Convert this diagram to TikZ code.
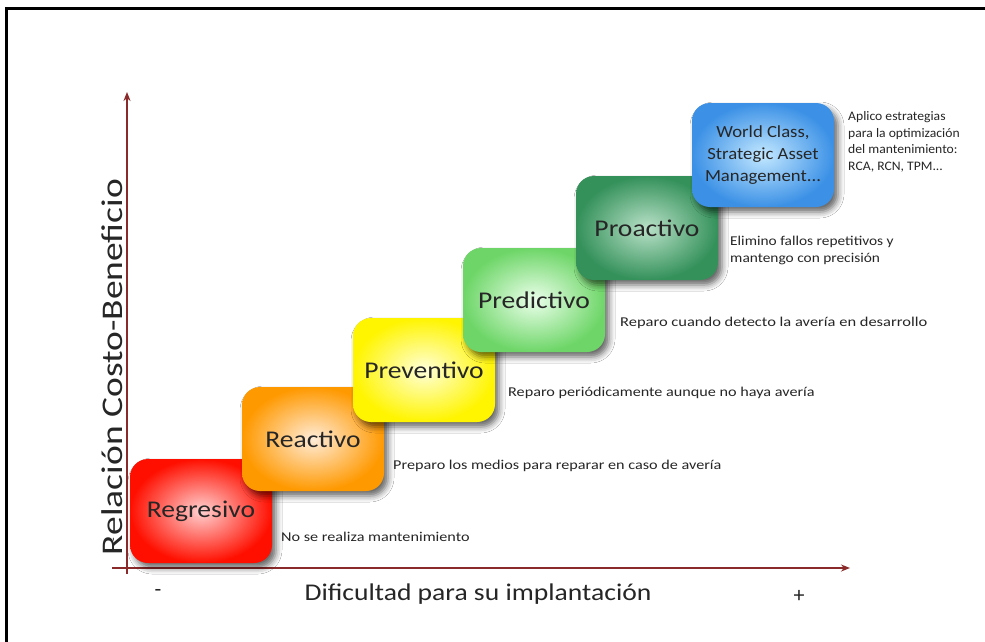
\documentclass[tikz,border=0pt]{standalone}
\usepackage{fontspec}
\usepackage{graphicx}
\setmainfont{Carlito}
\usetikzlibrary{arrows.meta,shadows.blur}

\definecolor{axisred}{HTML}{8B2A2A}
\definecolor{txt}{HTML}{262626}

\tikzset{
  stage/.style={rounded corners=18pt, minimum width=142pt, minimum height=104pt,
    text=txt, font=\fontsize{24}{26}\selectfont, align=center,
    blur shadow={shadow xshift=4pt, shadow yshift=-5pt, shadow blur radius=6pt,
      shadow opacity=60}},
  note/.style={anchor=west, text=txt, align=left, inner sep=0pt,
    font=\fontsize{13.5}{17}\selectfont},
  axis/.style={axisred, line width=1.8pt, -{Stealth[length=9pt,width=7pt]}},
}

\begin{document}
\begin{tikzpicture}[x=1pt,y=-1pt]
\useasboundingbox (0,0) rectangle (985,642);
\fill[white] (0,0) rectangle (985,642);

% frame
\draw[line width=3pt] (6,642) -- (6,9) -- (985,9);

% axes
\coordinate (yb) at (127,574);
\coordinate (yt) at (127,92);
\coordinate (xl) at (112,568);
\coordinate (xr) at (850,568);
\draw[axis] (yb) -- (yt);
\draw[axis] (xl) -- (xr);

\node[rotate=90, text=txt, font=\fontsize{30}{32}\selectfont] (ylab) at (112,367) {\scalebox{1.25}[1]{Relación Costo-Beneficio}};
\node[rotate=90, text=txt, font=\fontsize{12}{12}\selectfont] (ymin) at (115,540) {-};
\node[text=txt, font=\fontsize{24}{26}\selectfont] (xlab) at (478,594) {\scalebox{1.15}[1]{Dificultad para su implantación}};
\node[text=txt, font=\fontsize{22}{24}\selectfont] (xmin) at (158,593) {-};
\node[text=txt, font=\fontsize{22}{24}\selectfont] (xmax) at (799,596) {+};

% stages, each drawn above the previous one
\node[stage, inner color=red!18!white, outer color=red!88!orange] (s1) at (201,511) {\scalebox{1.15}[1]{Regresivo}};
\node[stage, inner color=orange!15!white, outer color=orange!80!yellow] (s2) at (313,439) {\scalebox{1.15}[1]{Reactivo}};
\node[stage, inner color=yellow!15!white, outer color=yellow!92!orange] (s3) at (424,370) {\scalebox{1.15}[1]{Preventivo}};
\node[stage, inner color=green!8!white, outer color={rgb,255:red,110;green,214;blue,104}] (s4) at (534,300) {\scalebox{1.15}[1]{Predictivo}};
\node[stage, inner color={rgb,255:red,185;green,225;blue,200}, outer color={rgb,255:red,52;green,145;blue,90}] (s5) at (647,228) {\scalebox{1.15}[1]{Proactivo}};
\node[stage, inner color={rgb,255:red,195;green,232;blue,255}, outer color={rgb,255:red,60;green,145;blue,230}, font=\fontsize{17}{22}\selectfont] (s6) at (763,155)
  {\scalebox{1.1}[1]{\begin{tabular}{@{}c@{}}World Class,\\Strategic Asset\\Management...\end{tabular}}};

% descriptions
\node[note] (d1) at (281,537) {\scalebox{1.2}[1]{No se realiza mantenimiento}};
\node[note] (d2) at (393,466) {\scalebox{1.2}[1]{Preparo los medios para reparar en caso de avería}};
\node[note] (d3) at (508,393) {\scalebox{1.2}[1]{Reparo periódicamente aunque no haya avería}};
\node[note] (d4) at (620,323) {\scalebox{1.22}[1]{Reparo cuando detecto la avería en desarrollo}};
\node[note] (d5) at (730,251) {\scalebox{1.14}[1]{\begin{tabular}{@{}l@{}}Elimino fallos repetitivos y\\mantengo con precisión\end{tabular}}};
\node[note, font=\fontsize{13}{16.5}\selectfont] (d6) at (848,142) {\scalebox{1.05}[1]{\begin{tabular}{@{}l@{}}Aplico estrategias\\para la optimización\\del mantenimiento:\\RCA, RCN, TPM...\end{tabular}}};
\end{tikzpicture}
\end{document}
